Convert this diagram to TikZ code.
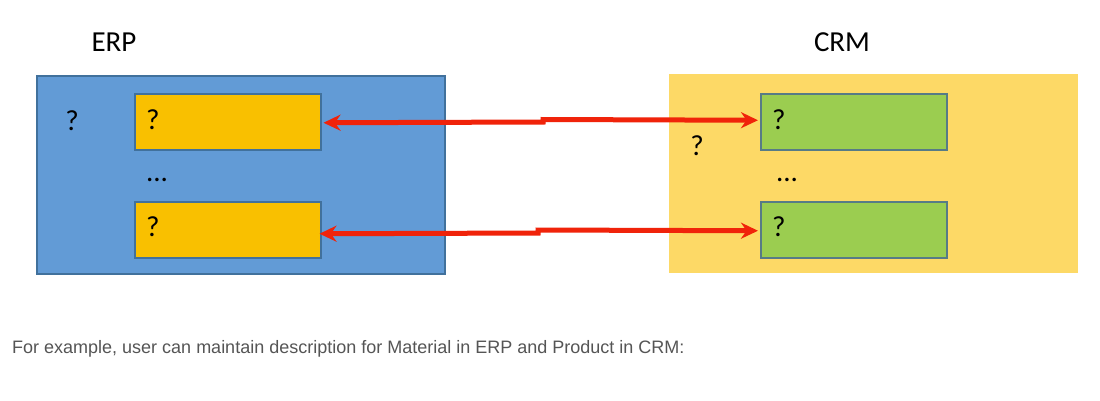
\documentclass[tikz,border=0pt]{standalone}
\usepackage{fontspec}
\setmainfont{Carlito}
\newfontfamily\arialfont{Liberation Sans}
\usetikzlibrary{arrows.meta,calc}
\definecolor{erpblue}{HTML}{629BD6}
\definecolor{erpedge}{HTML}{41719C}
\definecolor{gold}{HTML}{F9C000}
\definecolor{crmbg}{HTML}{FDD966}
\definecolor{leaf}{HTML}{9BCD50}
\definecolor{leafedge}{HTML}{577B86}
\definecolor{arrred}{HTML}{F0230A}
\definecolor{captiongray}{HTML}{555555}
\tikzset{
  sysbox/.style={draw=none, inner sep=0pt, anchor=north west},
  itembox/.style={draw=erpedge, line width=1.5pt, inner sep=0pt, anchor=north west, minimum width=186pt, minimum height=56pt},
  qmark/.style={font=\fontsize{29}{32}\selectfont, inner sep=0pt},
  title/.style={font=\fontsize{29}{32}\selectfont, inner sep=0pt},
  link/.style={draw=arrred, line width=5pt, {Stealth[length=17pt,width=16pt]}-{Stealth[length=17pt,width=16pt]}}
}
\begin{document}
\begin{tikzpicture}[x=1pt,y=-1pt]
\useasboundingbox[fill=white] (0,0) rectangle (1100,400);
% systems
\node[sysbox, fill=erpblue, draw=erpedge, line width=1.5pt, minimum width=408pt, minimum height=198pt] (erp) at (36,75) {};
\node[sysbox, fill=crmbg, minimum width=409pt, minimum height=199pt] (crm) at (669,74) {};
\node[title] (erpt) at (114,42) {ERP};
\node[title] (crmt) at (842,42) {CRM};
% items
\node[itembox, fill=gold] (y1) at (134,93) {};
\node[itembox, fill=gold] (y2) at (134,201) {};
\node[itembox, fill=leaf, draw=leafedge] (g1) at (760,93) {};
\node[itembox, fill=leaf, draw=leafedge] (g2) at (760,201) {};
% question marks
\node[qmark] (q0) at (72,121) {?};
\node[qmark, anchor=west] (q1) at (146,120) {?};
\node[qmark, anchor=west] (q2) at (146,227) {?};
\node[qmark] (q3) at (697,146) {?};
\node[qmark, anchor=west] (q4) at (772,120) {?};
\node[qmark, anchor=west] (q5) at (772,227) {?};
\node[qmark] (d1) at (157,180) {...};
\node[qmark] (d2) at (787,180) {...};
% arrows
\coordinate (a1) at (543,122);
\coordinate (b1) at (543,119.5);
\coordinate (a2) at (538,233);
\coordinate (b2) at (538,230);
\draw[link] ($(y1.east)+(2,1)$) -- (a1) -- (b1) -- ($(g1.west)+(-2,-1.5)$);
\draw[link] ($(y2.east)+(-2,4)$) -- (a2) -- (b2) -- ($(g2.west)+(-2,1)$);
% caption
\node[anchor=west, inner sep=0pt, text=captiongray, font=\arialfont\fontsize{18}{21}\selectfont] (cap) at (12,349) {For example, user can maintain description for Material in ERP and Product in CRM:};
\end{tikzpicture}
\end{document}
